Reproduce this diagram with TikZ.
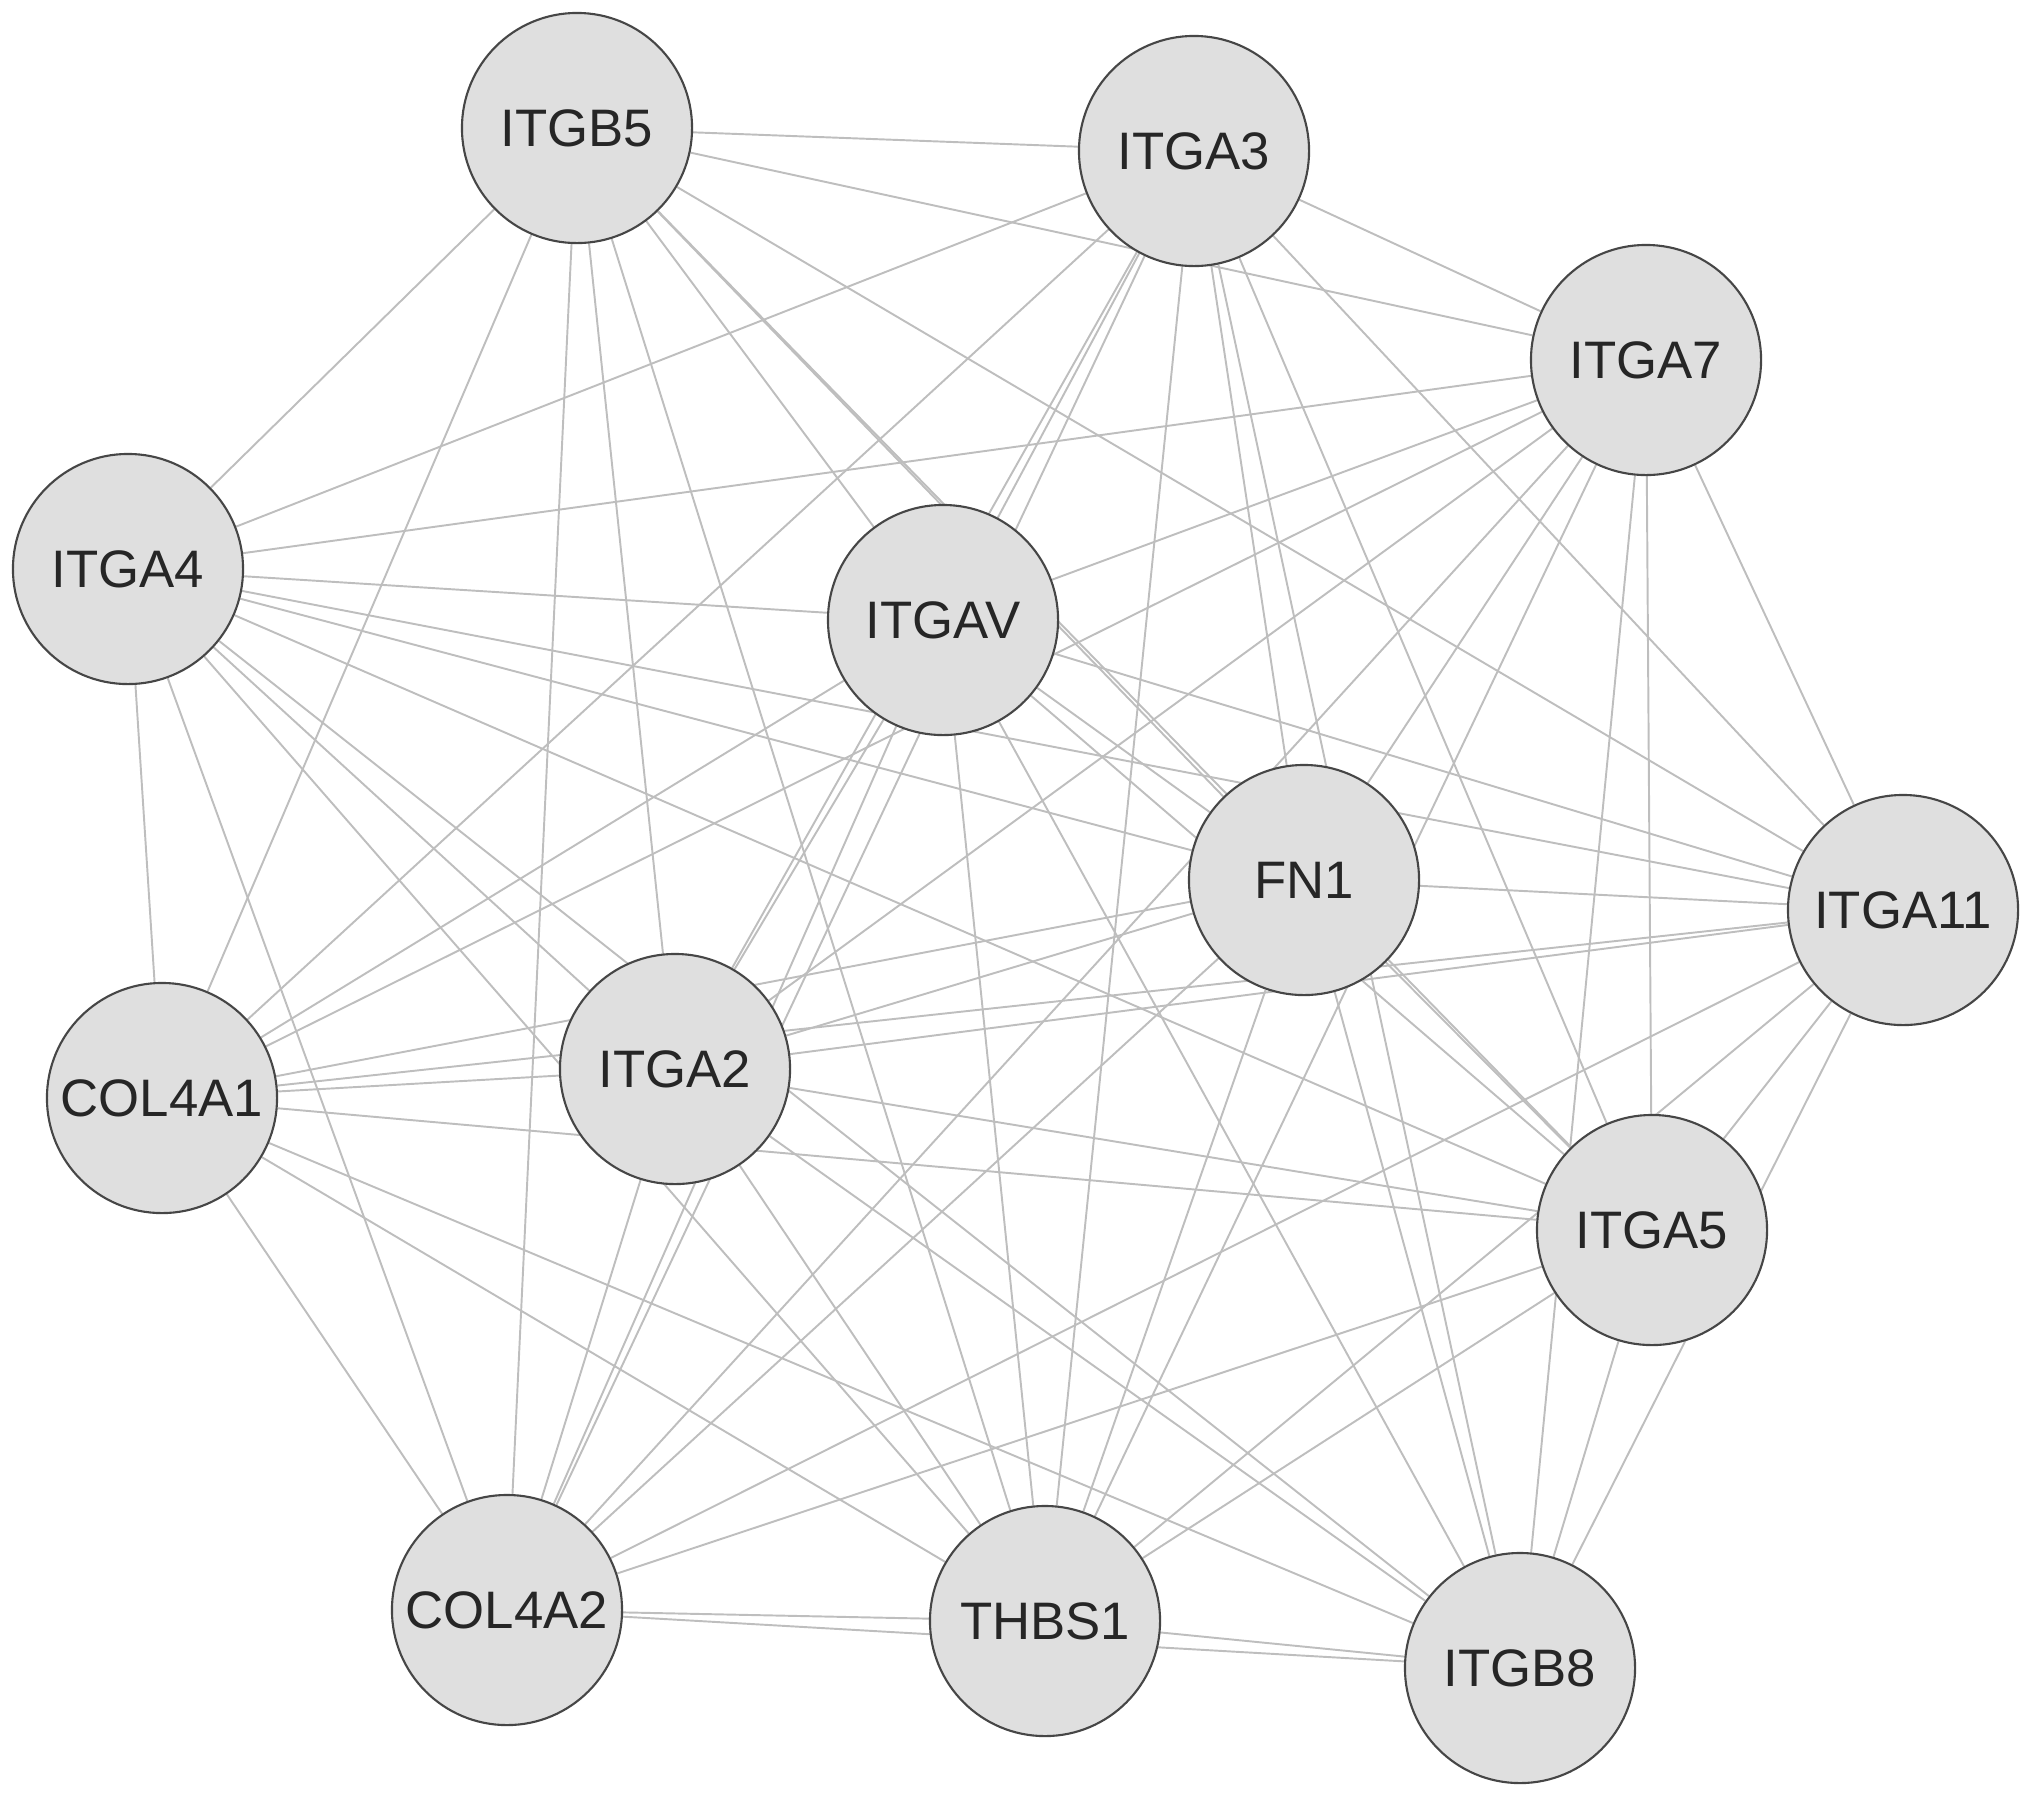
\documentclass[tikz,border=0pt]{standalone}
\usepackage{fontspec}
\setmainfont{Liberation Sans}
\usetikzlibrary{backgrounds}
\definecolor{edgegray}{RGB}{190,190,190}
\definecolor{nodefill}{RGB}{223,223,223}
\definecolor{nodeline}{RGB}{70,70,70}
\tikzstyle{gene}=[circle, draw=nodeline, fill=nodefill, line width=0.6pt, minimum size=2.3cm, inner sep=0pt, font=\fontsize{15}{18}\selectfont, text=black!85]
\tikzstyle{link}=[draw=edgegray, line width=0.55pt]

\begin{document}
\begin{tikzpicture}[x=0.01cm, y=-0.01cm]
\useasboundingbox (0,0) rectangle (2031,1793);
% Genes
    \node[gene] (b5) at (577,128) {ITGB5};
    \node[gene] (a3) at (1194,151) {ITGA3};
    \node[gene] (a7) at (1646,360) {ITGA7};
    \node[gene] (a4) at (128,569) {ITGA4};
    \node[gene] (av) at (943,620) {ITGAV};
    \node[gene] (fn) at (1304,880) {FN1};
    \node[gene] (a11) at (1903,910) {ITGA11};
    \node[gene] (c1) at (162,1098) {COL4A1};
    \node[gene] (a2) at (675,1069) {ITGA2};
    \node[gene] (a5) at (1652,1230) {ITGA5};
    \node[gene] (c2) at (507,1610) {COL4A2};
    \node[gene] (th) at (1045,1621) {THBS1};
    \node[gene] (b8) at (1520,1668) {ITGB8};

% Interactions
\begin{scope}[on background layer]
    \draw[link] (b5) -- (a3);
    \draw[link] (b5) -- (a7);
    \draw[link] (b5) -- (a4);
    \draw[link] (b5) -- (av);
    \draw[link] (b5) -- (fn);
    \draw[link] (b5) -- (a11);
    \draw[link] (b5) -- (c1);
    \draw[link] (b5) -- (a2);
    \draw[link] (b5) -- (a5);
    \draw[link] (b5) -- (c2);
    \draw[link] (b5) -- (th);
    \draw[link] (a3) -- (a7);
    \draw[link] (a3) -- (a4);
    \draw[link] (a3) -- (av);
    \draw[link] (a3) -- (fn);
    \draw[link] (a3) -- (a11);
    \draw[link] (a3) -- (c1);
    \draw[link] (a3) -- (a2);
    \draw[link] (a3) -- (a5);
    \draw[link] (a3) -- (c2);
    \draw[link] (a3) -- (th);
    \draw[link] (a3) -- (b8);
    \draw[link] (a7) -- (a4);
    \draw[link] (a7) -- (av);
    \draw[link] (a7) -- (fn);
    \draw[link] (a7) -- (a11);
    \draw[link] (a7) -- (c1);
    \draw[link] (a7) -- (a2);
    \draw[link] (a7) -- (a5);
    \draw[link] (a7) -- (c2);
    \draw[link] (a7) -- (th);
    \draw[link] (a7) -- (b8);
    \draw[link] (a4) -- (av);
    \draw[link] (a4) -- (fn);
    \draw[link] (a4) -- (a11);
    \draw[link] (a4) -- (c1);
    \draw[link] (a4) -- (a2);
    \draw[link] (a4) -- (a5);
    \draw[link] (a4) -- (c2);
    \draw[link] (a4) -- (th);
    \draw[link] (a4) -- (b8);
    \draw[link] (av) -- (fn);
    \draw[link] (av) -- (a11);
    \draw[link] (av) -- (c1);
    \draw[link] (av) -- (a2);
    \draw[link] (av) -- (a5);
    \draw[link] (av) -- (c2);
    \draw[link] (av) -- (th);
    \draw[link] (av) -- (b8);
    \draw[link] (fn) -- (a11);
    \draw[link] (fn) -- (c1);
    \draw[link] (fn) -- (a2);
    \draw[link] (fn) -- (a5);
    \draw[link] (fn) -- (c2);
    \draw[link] (fn) -- (th);
    \draw[link] (fn) -- (b8);
    \draw[link] (a11) -- (c1);
    \draw[link] (a11) -- (a2);
    \draw[link] (a11) -- (a5);
    \draw[link] (a11) -- (c2);
    \draw[link] (a11) -- (th);
    \draw[link] (a11) -- (b8);
    \draw[link] (c1) -- (a2);
    \draw[link] (c1) -- (a5);
    \draw[link] (c1) -- (c2);
    \draw[link] (c1) -- (th);
    \draw[link] (c1) -- (b8);
    \draw[link] (a2) -- (a5);
    \draw[link] (a2) -- (c2);
    \draw[link] (a2) -- (th);
    \draw[link] (a2) -- (b8);
    \draw[link] (a5) -- (c2);
    \draw[link] (a5) -- (th);
    \draw[link] (a5) -- (b8);
    \draw[link] (c2) -- (th);
    \draw[link] (c2) -- (b8);
    \draw[link] (th) -- (b8);
\end{scope}
\end{tikzpicture}
\end{document}
